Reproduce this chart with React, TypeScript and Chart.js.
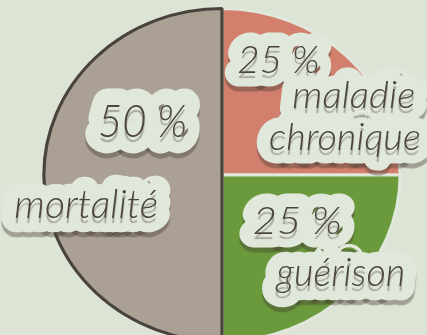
import React, { useEffect, useRef } from 'react';
import { Chart, registerables } from 'chart.js';

Chart.register(...registerables);

// ---- data ----
const categories = ['maladie chronique', 'guérison', 'mortalité'];
const values = [25, 25, 50];
const percentLabels = ['25 %', '25 %', '50 %'];
const nameLines = [['maladie', 'chronique'], ['guérison'], ['mortalité']];

// ---- styles ----
const BG = '#dce5d5';
const HALO = '#e0e8db';
const INK = '#4a433e';
const sliceColors = ['#d37f6e', '#6a9a3b', '#aaa093'];
const sliceBorders = ['#e0e8db', '#e0e8db', '#4a433d'];
const FONT_FAMILY = '"Lato", "Open Sans", sans-serif';
const STRETCH_X = 1.07; // the printed pie is slightly wider than tall

// label layout: [dx, dy (baseline), font size, target width] in px relative to pie centre (r = 168)
const percentLayout = [
  [57, -103, 38, 83],
  [76, 60, 38, 90],
  [-80, -38, 46, 90],
];
const nameLayout = [
  [[133, -68, 38, 124], [124, -25, 38, 153]],
  [[120, 112, 40, 130]],
  [[-137, 43, 40, 145]],
];

const labelPlugin = {
  id: 'scriptLabels',
  beforeDatasetsDraw(chart: any) {
    const ctx: CanvasRenderingContext2D = chart.ctx;
    const arc = chart.getDatasetMeta(0).data[0];
    ctx.save();
    if (arc) {
      ctx.translate(arc.x, arc.y);
      ctx.scale(STRETCH_X, 1);
      ctx.translate(-arc.x, -arc.y);
    }
  },
  afterDatasetsDraw(chart: any) {
    const ctx: CanvasRenderingContext2D = chart.ctx;
    ctx.restore();
    const arc = chart.getDatasetMeta(0).data[0];
    if (!arc) return;
    const cx = arc.x;
    const cy = arc.y;
    const k = arc.outerRadius / 168;
    const items: { text: string; x: number; y: number; size: number; w: number }[] = [];
    values.forEach((_, i) => {
      const p = percentLayout[i];
      items.push({ text: percentLabels[i], x: cx + p[0] * k, y: cy + p[1] * k, size: p[2] * k, w: p[3] * k });
      nameLines[i].forEach((line, j) => {
        const n = nameLayout[i][j];
        items.push({ text: line, x: cx + n[0] * k, y: cy + n[1] * k, size: n[2] * k, w: n[3] * k });
      });
    });
    const drawAll = (mode: 'halo' | 'ink') => {
      items.forEach((it) => {
        ctx.save();
        ctx.font = `italic 300 ${it.size}px ${FONT_FAMILY}`;
        ctx.textAlign = 'center';
        ctx.textBaseline = 'alphabetic';
        const mw = ctx.measureText(it.text).width || 1;
        const sx = it.w / mw;
        ctx.translate(it.x, it.y);
        ctx.scale(sx, 1);
        if (mode === 'halo') {
          ctx.lineJoin = 'round';
          ctx.lineWidth = it.size * 0.72;
          ctx.strokeStyle = HALO;
          ctx.shadowColor = 'rgba(70,60,50,0.4)';
          ctx.shadowOffsetY = 5;
          ctx.shadowBlur = 1;
          ctx.strokeText(it.text, 0, 0);
          ctx.fillStyle = HALO;
          ctx.fillText(it.text, 0, 0);
        } else {
          ctx.fillStyle = INK;
          ctx.fillText(it.text, 0, 0);
        }
        ctx.restore();
      });
    };
    drawAll('halo');
    drawAll('ink');
  },
};

export default function App() {
  const ref = useRef<HTMLCanvasElement | null>(null);
  useEffect(() => {
    if (!ref.current) return;
    const chart = new Chart(ref.current, {
      type: 'pie',
      data: {
        labels: categories,
        datasets: [
          {
            data: values,
            backgroundColor: sliceColors,
            borderColor: sliceBorders,
            borderWidth: [3, 3, 3],
            borderAlign: 'center',
          },
        ],
      },
      options: {
        responsive: false,
        animation: false,
        layout: { padding: { top: 7, bottom: 7, left: 0, right: 0 } },
        plugins: {
          legend: { display: false },
          tooltip: { enabled: false },
        },
      },
      plugins: [labelPlugin],
    });
    return () => chart.destroy();
  }, []);
  return (
    <div
      style={{
        position: 'fixed',
        left: 0,
        top: 0,
        width: 427,
        height: 335,
        overflow: 'hidden',
        background: BG,
      }}
    >
      <canvas ref={ref} width={444} height={350} style={{ position: 'absolute', left: 0, top: 0 }} />
    </div>
  );
}
